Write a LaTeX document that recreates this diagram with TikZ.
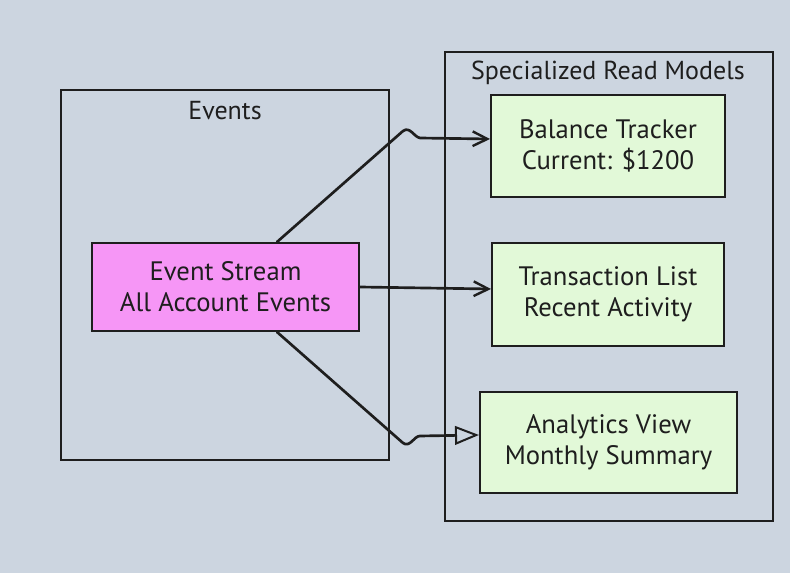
\documentclass[tikz,border=0pt]{standalone}
\usepackage{fontspec}
\setmainfont{PT Sans}
\usetikzlibrary{arrows.meta}
\definecolor{bg}{RGB}{204,213,224}
\definecolor{pinkfill}{RGB}{246,150,246}
\definecolor{greenfill}{RGB}{226,249,216}
\definecolor{ink}{RGB}{30,30,30}
\tikzset{
  grp/.style={draw=ink, line width=1.5pt},
  grplabel/.style={font=\fontsize{19.5}{23}\selectfont, text=ink},
  src/.style={draw=ink, line width=1.5pt, fill=pinkfill, align=center, font=\fontsize{20}{23}\selectfont, text=ink},
  model/.style={draw=ink, line width=1.5pt, fill=greenfill, align=center, font=\fontsize{20}{23}\selectfont, text=ink},
  conn/.style={draw=ink, line width=2pt, line cap=round, line join=round, -{Straight Barb[length=11pt,width=11pt,line width=1.8pt]}},
  connopen/.style={draw=ink, line width=2pt, line cap=round, line join=round, -{Triangle[open, length=18pt,width=14pt,line width=1.5pt]}}
}
\begin{document}
\begin{tikzpicture}[x=0.75pt,y=-0.75pt]
\fill[bg] (0,0) rectangle (790,573);
\useasboundingbox (0,0) rectangle (790,573);
% groups
\draw[grp] (61,90) rectangle (389,460);
\node[grplabel] (evlabel) at (225,111) {Events};
\draw[grp] (445,52) rectangle (773,521);
\node[grplabel] (rmlabel) at (608,73) {Specialized Read Models};
% nodes
\node[src, minimum width=267*0.75pt, minimum height=88*0.75pt] (es) at (225.5,287) {Event Stream\\All Account Events};
\node[model, minimum width=234*0.75pt, minimum height=102*0.75pt] (bt) at (608,146) {Balance Tracker\\Current: \$1200};
\node[model, minimum width=232*0.75pt, minimum height=103*0.75pt] (tl) at (608,294.5) {Transaction List\\Recent Activity};
\node[model, minimum width=257*0.75pt, minimum height=101*0.75pt] (av) at (608.5,442.5) {Analytics View\\Monthly Summary};
% connectors
\path (es.north east) ++(-83*0.75pt,0) coordinate (s1);
\coordinate (b1) at (403,131);
\coordinate (b2) at (420,138);
\draw[conn] (s1) -- (b1) .. controls (410,126) and (414,137) .. (b2) -- (bt.west |- 0,139);
\draw[conn] (es.east |- 0,287) -- (tl.west |- 0,289);
\path (es.south east) ++(-83*0.75pt,0) coordinate (s3);
\coordinate (c1) at (403,443);
\coordinate (c2) at (420,436);
\draw[connopen] (s3) -- (c1) .. controls (410,448) and (414,436) .. (c2) -- (av.west |- 0,435);
\end{tikzpicture}
\end{document}
